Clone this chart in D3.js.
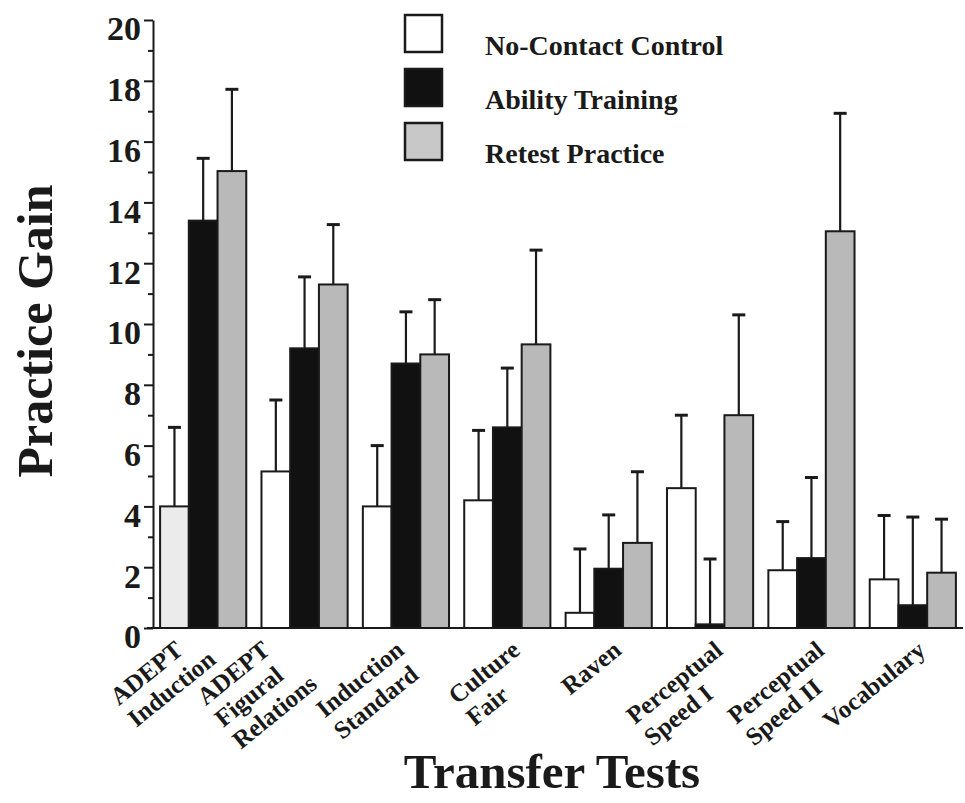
<!DOCTYPE html>
<html>
<head>
<meta charset="utf-8">
<script src="https://cdn.jsdelivr.net/npm/d3@7"></script>
<style>
  html, body { margin: 0; padding: 0; background: #fff; }
  svg { display: block; }
  text { font-family: "Liberation Serif", "Times New Roman", serif; font-weight: bold; fill: #1a1a1a; }
</style>
</head>
<body>
<svg id="chart" width="965" height="803"></svg>
<script>
// ---- data ----
const categories = ["ADEPT\nInduction", "ADEPT\nFigural\nRelations", "Induction\nStandard", "Culture\nFair",
                    "Raven", "Perceptual\nSpeed I", "Perceptual\nSpeed II", "Vocabulary"];
const seriesNames = ["No-Contact Control", "Ability Training", "Retest Practice"];
const controlGain = [4.0, 5.15, 4.0, 4.2, 0.5, 4.6, 1.9, 1.6];
const controlErr  = [2.6, 2.35, 2.0, 2.3, 2.1, 2.4, 1.6, 2.1];
const abilityGain = [13.4, 9.2, 8.7, 6.6, 1.95, 0.12, 2.3, 0.75];
const abilityErr  = [2.05, 2.35, 1.7, 1.95, 1.77, 2.15, 2.65, 2.9];
const retestGain  = [15.03, 11.3, 9.0, 9.33, 2.8, 7.0, 13.05, 1.82];
const retestErr   = [2.69, 1.97, 1.8, 3.1, 2.34, 3.3, 3.88, 1.76];
const yTickValues = [0, 2, 4, 6, 8, 10, 12, 14, 16, 18, 20];
const yMinorTicks = [1, 3, 5, 7, 9, 11, 13, 15, 17, 19];
const yTitle = "Practice Gain";
const xTitle = "Transfer Tests";

// ---- styling ----
const fills = ["#ffffff", "#111111", "#b9b9b9"];
const ink = "#1a1a1a";

const svg = d3.select("#chart");

const values = [controlGain, abilityGain, retestGain];
const errs = [controlErr, abilityErr, retestErr];
const rows = categories.map((c, i) => ({
  cat: c,
  bars: seriesNames.map((s, k) => ({ series: s, k, i, v: values[k][i], e: errs[k][i] }))
}));

const x = d3.scaleBand().domain(categories).range([153, 963]).paddingInner(0.15).paddingOuter(0.07);
const xs = d3.scaleBand().domain(seriesNames).range([0, x.bandwidth()]).padding(0);
const y = d3.scaleLinear().domain([0, 20]).range([628, 20]);

// ---- bars ----
const groups = svg.append("g").selectAll("g").data(rows).join("g")
  .attr("transform", d => `translate(${x(d.cat)},0)`);

groups.selectAll("rect").data(d => d.bars).join("rect")
  .attr("x", d => xs(d.series))
  .attr("y", d => y(d.v))
  .attr("width", xs.bandwidth())
  .attr("height", d => y(0) - y(d.v))
  .attr("fill", d => (d.k === 0 && d.i === 0) ? "#ebebeb" : fills[d.k])
  .attr("stroke", ink)
  .attr("stroke-width", 2);

// ---- error bars ----
const eb = groups.selectAll("g.err").data(d => d.bars).join("g").attr("class", "err");
eb.append("line")
  .attr("x1", d => xs(d.series) + xs.bandwidth() / 2)
  .attr("x2", d => xs(d.series) + xs.bandwidth() / 2)
  .attr("y1", d => y(d.v))
  .attr("y2", d => y(d.v + d.e))
  .attr("stroke", ink).attr("stroke-width", 2.2);
eb.append("line")
  .attr("x1", d => xs(d.series) + xs.bandwidth() / 2 - 6.5)
  .attr("x2", d => xs(d.series) + xs.bandwidth() / 2 + 6.5)
  .attr("y1", d => y(d.v + d.e))
  .attr("y2", d => y(d.v + d.e))
  .attr("stroke", ink).attr("stroke-width", 3);

// ---- axes ----
const yAxis = svg.append("g").attr("transform", "translate(153,0)")
  .call(d3.axisLeft(y).tickValues(yTickValues).tickSize(9).tickSizeOuter(0).tickPadding(3).tickFormat(d3.format("d")));
yAxis.select(".domain").attr("stroke", ink).attr("stroke-width", 2);
yAxis.selectAll(".tick line").attr("stroke", ink).attr("stroke-width", 2);
yAxis.selectAll(".tick text").attr("font-size", 34).attr("font-family", "Liberation Serif")
  .attr("font-weight", "bold").attr("fill", ink).attr("y", 9);

const yMinor = svg.append("g").attr("transform", "translate(153,0)")
  .call(d3.axisLeft(y).tickValues(yMinorTicks).tickSize(5).tickFormat(""));
yMinor.select(".domain").remove();
yMinor.selectAll(".tick line").attr("stroke", ink).attr("stroke-width", 2);

const xAxis = svg.append("g").attr("transform", `translate(0,${y(0)})`)
  .call(d3.axisBottom(x).tickSize(0).tickSizeOuter(0).tickFormat(""));
xAxis.select(".domain").attr("stroke", ink).attr("stroke-width", 2.2).attr("d", "M147,0H963");

// ---- rotated category labels ----
const ang = 39 * Math.PI / 180, c = Math.cos(ang), s = Math.sin(ang);
const lh = 28;
rows.forEach(d => {
  const lines = d.cat.split("\n");
  const g = svg.append("g");
  const texts = lines.map((ln, j) => g.append("text")
    .attr("x", 0).attr("y", j * lh).attr("dy", "0.35em")
    .attr("font-size", 25).attr("text-anchor", "start").text(ln));
  const widths = texts.map(t => t.node().getComputedTextLength());
  let top = Infinity, xmax = -Infinity;
  widths.forEach((w, j) => {
    const v = j * lh;
    const ex = w * c + v * s, ey = -w * s + v * c;
    top = Math.min(top, ey, v * c);
    xmax = Math.max(xmax, ex, v * s);
  });
  const sx = x(d.cat) + x.bandwidth() * 0.6 - xmax;
  const sy = 646 - top;
  g.attr("transform", `translate(${sx},${sy}) rotate(-39)`);
});

// ---- titles ----
svg.append("text").attr("transform", "translate(52,331) rotate(-90)")
  .attr("text-anchor", "middle").attr("font-size", 50).text(yTitle);
svg.append("text").attr("x", 552).attr("y", 788)
  .attr("text-anchor", "middle").attr("font-size", 49).text(xTitle);

// ---- legend ----
const legend = svg.append("g");
seriesNames.forEach((name, k) => {
  const ly = 15 + k * 54;
  legend.append("rect").attr("x", 405).attr("y", ly).attr("width", 37).attr("height", 37)
    .attr("fill", k === 2 ? "#c8c8c8" : fills[k]).attr("stroke", ink).attr("stroke-width", 2.5);
  legend.append("text").attr("x", 485).attr("y", ly + 40)
    .attr("font-size", 28).text(name);
});
</script>
</body>
</html>
